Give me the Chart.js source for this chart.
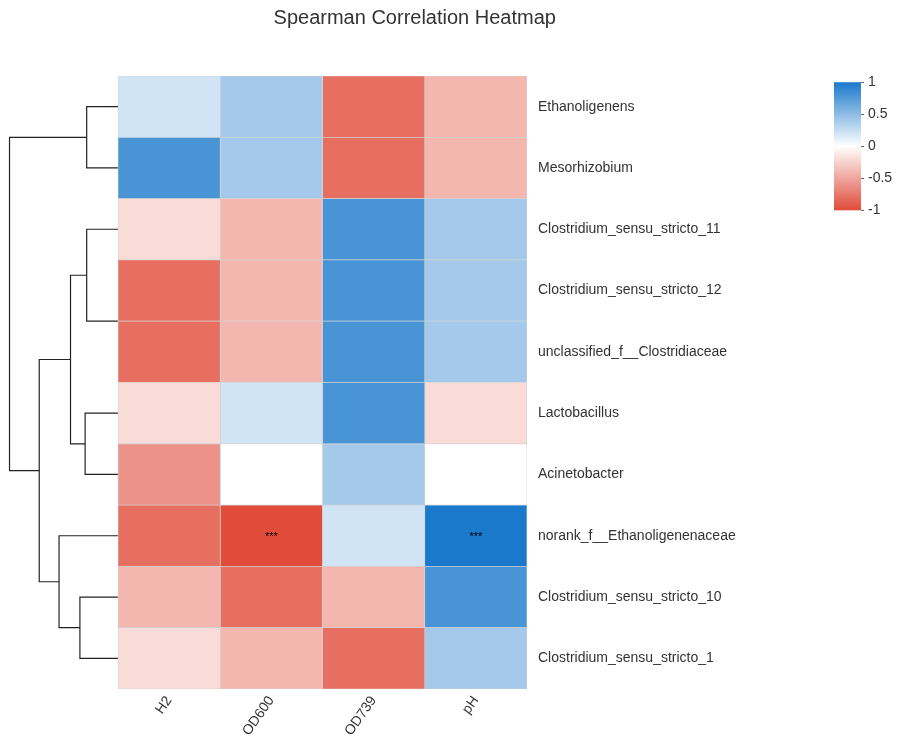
<!DOCTYPE html>
<html>
<head>
<meta charset="utf-8">
<script src="https://cdn.jsdelivr.net/npm/chart.js@4.4.0/dist/chart.umd.min.js"></script>
<style>
  html, body { margin: 0; padding: 0; background: #fff; }
  #wrap { width: 908px; height: 747px; }
</style>
</head>
<body>
<div id="wrap"><canvas id="heatmap" width="908" height="747"></canvas></div>
<script>
const taxa = [
  'Ethanoligenens', 'Mesorhizobium', 'Clostridium_sensu_stricto_11',
  'Clostridium_sensu_stricto_12', 'unclassified_f__Clostridiaceae', 'Lactobacillus',
  'Acinetobacter', 'norank_f__Ethanoligenenaceae', 'Clostridium_sensu_stricto_10',
  'Clostridium_sensu_stricto_1'
];
const factors = ['H2', 'OD600', 'OD739', 'pH'];

// spearman r per factor, in row (taxa) order
const rH2    = [0.2, 0.8, -0.2, -0.8, -0.8, -0.2, -0.6, -0.8, -0.4, -0.2];
const rOD600 = [0.4, 0.4, -0.4, -0.4, -0.4, 0.2, 0, -1, -0.8, -0.4];
const rOD739 = [-0.8, -0.8, 0.8, 0.8, 0.8, 0.8, 0.4, 0.2, -0.4, -0.8];
const rPH    = [-0.4, -0.4, 0.4, 0.4, 0.4, -0.2, 0, 1, 0.8, 0.4];

// significance marks
const sigH2    = ['', '', '', '', '', '', '', '', '', ''];
const sigOD600 = ['', '', '', '', '', '', '', '***', '', ''];
const sigOD739 = ['', '', '', '', '', '', '', '', '', ''];
const sigPH    = ['', '', '', '', '', '', '', '***', '', ''];

const colorTicks = [-1, -0.5, 0, 0.5, 1];

// row clustering, hclust style: negative = leaf (1-based row), positive = earlier merge
const mergePairs = [[-4, -5], [-1, -2], [-3, 1], [-6, -7], [-9, -10], [3, 4], [-8, 5], [6, 7], [2, 8]];
const mergeHeights = [0, 0.6, 0.6, 0.63, 0.73, 0.91, 1.13, 1.51, 2.08];

const corrValues = [rH2, rOD600, rOD739, rPH];
const sigMarks = [sigH2, sigOD600, sigOD739, sigPH];

const RED = [224, 75, 58];
const BLUE = [27, 121, 203];
function corrColor(v) {
  const end = v < 0 ? RED : BLUE;
  const t = Math.min(1, Math.abs(v));
  const c = end.map(e => Math.round(255 + (e - 255) * t));
  return 'rgb(' + c.join(',') + ')';
}

const dendroScale = 0.51; // x units per height unit

const cellSets = corrValues.map((vals, c) => ({
  type: 'bar',
  indexAxis: 'y',
  stack: 'cells',
  label: factors[c],
  data: vals.map((v, i) => ({ x: [c, c + 1], y: i })),
  backgroundColor: vals.map(corrColor),
  borderColor: '#d2d2d2',
  borderWidth: 0.7,
  borderSkipped: false,
  categoryPercentage: 1,
  barPercentage: 1,
  order: 1
}));

const nodes = [];
const dendroSets = [];
function nodeOf(ref) {
  return ref < 0 ? { y: -ref - 1, h: 0 } : nodes[ref - 1];
}
mergePairs.forEach((p, k) => {
  const a = nodeOf(p[0]);
  const b = nodeOf(p[1]);
  const h = mergeHeights[k];
  nodes.push({ y: (a.y + b.y) / 2, h: h });
  if (h === 0) return; // zero-height link sits under the heatmap edge
  dendroSets.push({
    type: 'line',
    yAxisID: 'yd',
    data: [
      { x: -a.h * dendroScale, y: a.y },
      { x: -h * dendroScale, y: a.y },
      { x: -h * dendroScale, y: b.y },
      { x: -b.h * dendroScale, y: b.y }
    ],
    borderColor: '#222',
    borderWidth: 1.2,
    pointRadius: 0,
    fill: false,
    tension: 0,
    order: 2
  });
});

const heatmapExtras = {
  id: 'heatmapExtras',
  afterLayout(chart) {
    // centre the title over dendrogram + heatmap + row labels
    const t = chart.titleBlock;
    t.left = chart.chartArea.left;
    t.right = chart.scales.y.right - 10;
    t.width = t.right - t.left;
  },
  afterDatasetsDraw(chart) {
    const ctx = chart.ctx;
    const xs = chart.scales.x, ys = chart.scales.y;
    ctx.save();
    ctx.fillStyle = '#000';
    ctx.font = '11px "Liberation Sans", Arial, sans-serif';
    ctx.textAlign = 'center';
    ctx.textBaseline = 'middle';
    sigMarks.forEach((marks, c) => {
      marks.forEach((m, i) => {
        if (m) ctx.fillText(m, xs.getPixelForValue(c + 0.5), ys.getPixelForValue(i) + 1);
      });
    });
    ctx.restore();
  },
  afterDraw(chart) {
    const ctx = chart.ctx;
    const cs = chart.scales.yc;
    const top = cs.getPixelForValue(1);
    const bottom = cs.getPixelForValue(-1);
    const left = cs.left;
    const w = 27;
    const grad = ctx.createLinearGradient(0, top, 0, bottom);
    colorTicks.forEach(v => {
      grad.addColorStop((1 - v) / 2, corrColor(v));
    });
    ctx.save();
    ctx.fillStyle = grad;
    ctx.fillRect(left, top, w, bottom - top);
    ctx.strokeStyle = '#666';
    ctx.lineWidth = 1;
    colorTicks.forEach(v => {
      const py = Math.round(cs.getPixelForValue(v)) + 0.5;
      ctx.beginPath();
      ctx.moveTo(left + w, py);
      ctx.lineTo(left + w + 3, py);
      ctx.stroke();
    });
    ctx.restore();
  }
};

const font = '"Liberation Sans", Arial, sans-serif';
const noGrid = { display: false, drawTicks: false, offset: false };

new Chart(document.getElementById('heatmap'), {
  type: 'bar',
  data: { datasets: [...cellSets, ...dendroSets] },
  plugins: [heatmapExtras],
  options: {
    responsive: false,
    animation: false,
    events: [],
    layout: { padding: { left: 5.5, right: 14, top: 0, bottom: 0 } },
    plugins: {
      legend: { display: false },
      tooltip: { enabled: false },
      title: {
        display: true,
        text: 'Spearman Correlation Heatmap',
        color: '#333',
        font: { family: font, size: 20, weight: 'normal' },
        padding: { top: 6, bottom: 46 }
      }
    },
    scales: {
      x: {
        type: 'linear',
        min: -1.1,
        max: 4,
        offset: false,
        stacked: false,
        grid: noGrid,
        border: { display: false },
        afterBuildTicks: s => { s.ticks = factors.map((f, i) => ({ value: i + 0.5 })); },
        afterFit: s => { s.height = 58; },
        ticks: {
          color: '#333',
          font: { family: font, size: 14 },
          minRotation: 55,
          maxRotation: 55,
          padding: 4,
          callback: v => factors[Math.floor(v)]
        }
      },
      y: {
        type: 'linear',
        position: 'right',
        weight: 0,
        reverse: true,
        offset: false,
        min: -0.5,
        max: 9.5,
        grid: noGrid,
        border: { display: false },
        afterBuildTicks: s => { s.ticks = taxa.map((t, i) => ({ value: i })); },
        afterFit: s => { s.width = 307; },
        ticks: {
          color: '#333',
          font: { family: font, size: 14 },
          padding: 11,
          callback: v => taxa[v]
        }
      },
      yd: {
        type: 'linear',
        display: false,
        reverse: true,
        offset: false,
        min: -0.5,
        max: 9.5
      },
      yc: {
        type: 'linear',
        position: 'right',
        weight: 1,
        offset: false,
        min: -8.474,
        max: 1.097,
        grid: noGrid,
        border: { display: false },
        afterBuildTicks: s => { s.ticks = colorTicks.map(v => ({ value: v })); },
        afterFit: s => { s.width = 60; },
        ticks: {
          color: '#333',
          font: { family: font, size: 14 },
          padding: 34,
          callback: v => String(v)
        }
      }
    }
  }
});
</script>
</body>
</html>
